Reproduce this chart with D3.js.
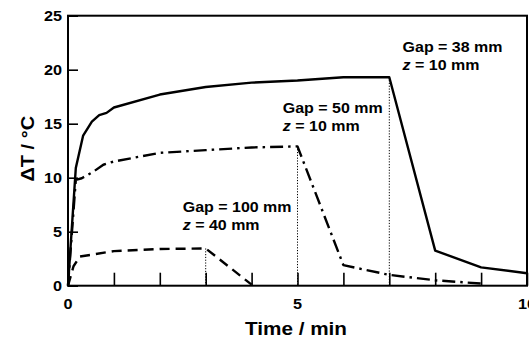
<!DOCTYPE html>
<html><head><meta charset="utf-8">
<script src="https://cdn.jsdelivr.net/npm/d3@7"></script>
<style>
body{margin:0;background:#fff;}
text{font-family:"Liberation Sans",Arial,sans-serif;font-weight:bold;fill:#000;}
</style></head>
<body><svg id="c" width="529" height="338"></svg>
<script>
const gap38T = [0, 0.17, 0.33, 0.52, 0.68, 0.84, 1.0, 2.0, 3.0, 4.0, 5.0, 6.0, 7.0, 8.0, 9.0, 10.0];
const gap38V = [0, 10.9, 13.9, 15.2, 15.8, 16.0, 16.5, 17.7, 18.4, 18.8, 19.0, 19.3, 19.3, 3.25, 1.7, 1.15];
const gap50T = [0, 0.17, 0.3, 0.55, 0.77, 1.0, 2.0, 3.0, 4.0, 5.0, 6.0, 7.0, 8.0, 9.0];
const gap50V = [0, 9.8, 9.95, 10.55, 11.2, 11.5, 12.3, 12.55, 12.8, 12.9, 1.9, 1.0, 0.5, 0.2];
const gap100T = [0, 0.12, 0.26, 1.0, 2.0, 3.0, 4.0];
const gap100V = [0, 1.8, 2.7, 3.2, 3.4, 3.45, 0.1];
const stopTimes = [3, 5, 7];
const stopValues = [3.45, 12.9, 19.3];
const xTicks = [0, 1, 2, 3, 4, 5, 6, 7, 8, 9, 10];
const xLabels = [0, 5, 10];
const yTicks = [0, 5, 10, 15, 20, 25];
const labels = [
  {t: 7.29, v: 21.67, l1: "Gap = 38 mm", l2: "= 10 mm"},
  {t: 4.68, v: 15.96, l1: "Gap = 50 mm", l2: "= 10 mm"},
  {t: 2.5, v: 6.85, l1: "Gap = 100 mm", l2: "= 40 mm"}
];

const svg = d3.select("#c");
const x = d3.scaleLinear().domain([0, 10]).range([68, 527]);
const y = d3.scaleLinear().domain([0, 25]).range([285.7, 15.7]);
const SX = 1.12;

svg.append("rect").attr("x", x(0)).attr("y", y(25)).attr("width", x(10) - x(0)).attr("height", y(0) - y(25))
  .attr("fill", "none").attr("stroke", "#000").attr("stroke-width", 2);

const xa = svg.append("g").attr("transform", `translate(0,${y(0)})`)
  .call(d3.axisBottom(x).tickValues(xTicks).tickSizeInner(-13).tickSizeOuter(0).tickFormat(""));
xa.select(".domain").remove();
xa.selectAll("line").attr("stroke-width", 1.6);
svg.append("g").selectAll("text").data(xLabels).join("text")
  .attr("transform", d => `translate(${x(d)},309) scale(${SX},1)`)
  .attr("text-anchor", "middle").attr("font-size", 14.5).text(d => d);

const ya = svg.append("g").attr("transform", `translate(${x(0)},0)`)
  .call(d3.axisLeft(y).tickValues(yTicks).tickSizeInner(-10).tickSizeOuter(0).tickFormat(""));
ya.select(".domain").remove();
ya.selectAll("line").attr("stroke-width", 1.6);
svg.append("g").selectAll("text").data(yTicks).join("text")
  .attr("transform", d => `translate(62,${y(d) + 5}) scale(${SX},1)`)
  .attr("text-anchor", "end").attr("font-size", 14.5).text(d => d);

svg.append("text").attr("transform", `translate(296,335) scale(${SX},1)`).attr("text-anchor", "middle")
  .attr("font-size", 18.5).text("Time / min");
svg.append("text").attr("transform", `translate(34,${(y(0)+y(25))/2 - 2}) rotate(-90) scale(1.08,1)`).attr("text-anchor", "middle")
  .attr("font-size", 18.5).text("ΔT / °C");

svg.append("g").selectAll("line").data(stopTimes).join("line")
  .attr("x1", d => x(d)).attr("x2", d => x(d))
  .attr("y1", (d, i) => y(stopValues[i])).attr("y2", y(0))
  .attr("stroke", "#000").attr("stroke-width", 1).attr("stroke-dasharray", "1.2,1.6");

const line = d3.line().x(d => x(d[0])).y(d => y(d[1]));
function drawSeries(T, V, dash) {
  svg.append("path").datum(T.map((t, i) => [t, V[i]])).attr("d", line)
    .attr("fill", "none").attr("stroke", "#000").attr("stroke-width", 2.4)
    .attr("stroke-linejoin", "round").attr("stroke-dasharray", dash);
}
drawSeries(gap100T, gap100V, "10,6");
drawSeries(gap50T, gap50V, "13,5,2.5,5");
drawSeries(gap38T, gap38V, null);

labels.forEach(d => {
  const g = svg.append("g").attr("transform", `translate(${x(d.t)},${y(d.v)}) scale(1.08,1)`);
  g.append("text").attr("x", 0).attr("y", 0).attr("font-size", 14.8).text(d.l1);
  const t2 = g.append("text").attr("x", 0).attr("y", 18).attr("font-size", 14.8);
  t2.append("tspan").attr("font-style", "italic").text("z");
  t2.append("tspan").text(" " + d.l2);
});
</script></body></html>
